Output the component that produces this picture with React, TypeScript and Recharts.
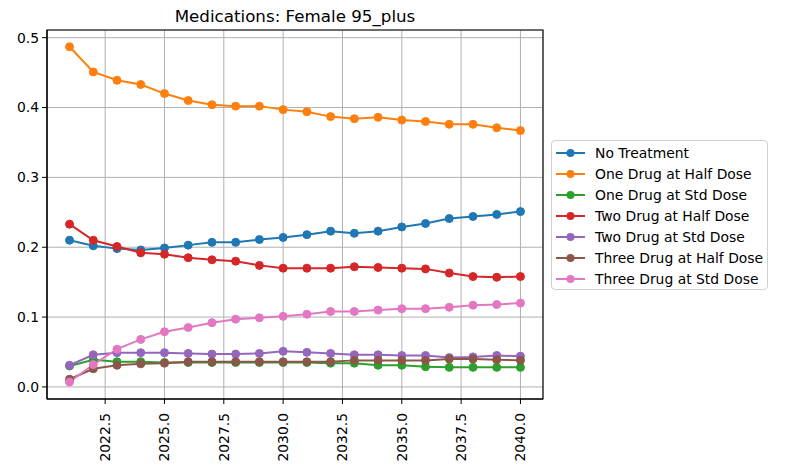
import React from "react";
import { CartesianGrid, Line, LineChart, ReferenceArea, XAxis, YAxis } from "recharts";

const years = [2021, 2022, 2023, 2024, 2025, 2026, 2027, 2028, 2029, 2030, 2031, 2032, 2033, 2034, 2035, 2036, 2037, 2038, 2039, 2040];

const noTreatment = [0.21, 0.202, 0.198, 0.196, 0.199, 0.203, 0.207, 0.207, 0.211, 0.214, 0.218, 0.223, 0.22, 0.223, 0.229, 0.234, 0.241, 0.244, 0.247, 0.251];
const oneHalf = [0.487, 0.451, 0.439, 0.433, 0.42, 0.41, 0.404, 0.402, 0.402, 0.397, 0.394, 0.387, 0.384, 0.386, 0.382, 0.38, 0.376, 0.376, 0.371, 0.367];
const oneStd = [0.03, 0.039, 0.036, 0.036, 0.035, 0.035, 0.035, 0.035, 0.035, 0.035, 0.035, 0.034, 0.034, 0.031, 0.031, 0.029, 0.028, 0.028, 0.028, 0.028];
const twoHalf = [0.233, 0.21, 0.201, 0.192, 0.19, 0.185, 0.182, 0.18, 0.174, 0.17, 0.17, 0.17, 0.172, 0.171, 0.17, 0.169, 0.163, 0.158, 0.157, 0.158];
const twoStd = [0.031, 0.046, 0.049, 0.049, 0.049, 0.048, 0.047, 0.047, 0.048, 0.051, 0.0495, 0.048, 0.046, 0.046, 0.045, 0.045, 0.042, 0.043, 0.045, 0.044];
const threeHalf = [0.011, 0.026, 0.031, 0.033, 0.034, 0.036, 0.036, 0.036, 0.036, 0.036, 0.036, 0.036, 0.038, 0.038, 0.038, 0.038, 0.04, 0.04, 0.039, 0.038];
const threeStd = [0.007, 0.032, 0.054, 0.068, 0.079, 0.085, 0.092, 0.097, 0.099, 0.101, 0.104, 0.108, 0.108, 0.11, 0.112, 0.112, 0.114, 0.117, 0.118, 0.12];

const xTicks = [2022.5, 2025, 2027.5, 2030, 2032.5, 2035, 2037.5, 2040];
const yTicks = [0, 0.1, 0.2, 0.3, 0.4, 0.5];
const xDomain = [2020.05, 2040.95];
const yDomain = [-0.0173, 0.511];

const series = [
  { key: "noTreatment", name: "No Treatment", color: "#1f77b4", values: noTreatment },
  { key: "oneHalf", name: "One Drug at Half Dose", color: "#ff7f0e", values: oneHalf },
  { key: "oneStd", name: "One Drug at Std Dose", color: "#2ca02c", values: oneStd },
  { key: "twoHalf", name: "Two Drug at Half Dose", color: "#d62728", values: twoHalf },
  { key: "twoStd", name: "Two Drug at Std Dose", color: "#9467bd", values: twoStd },
  { key: "threeHalf", name: "Three Drug at Half Dose", color: "#8c564b", values: threeHalf },
  { key: "threeStd", name: "Three Drug at Std Dose", color: "#e377c2", values: threeStd },
];

const data = years.map((year, i) => {
  const row: Record<string, number> = { year };
  series.forEach((s) => (row[s.key] = s.values[i]));
  return row;
});

const font = "'DejaVu Sans', sans-serif";

function XTick({ x, y, payload }: any) {
  return (
    <g transform={`translate(${x},${y})`}>
      <text transform="rotate(-90)" x={-9} y={0} dy="0.35em" textAnchor="end" fontSize={13.9} fontFamily={font} fill="#000">
        {Number(payload.value).toFixed(1)}
      </text>
    </g>
  );
}

function LegendBox() {
  return (
    <div style={{ position: "absolute", left: 551, top: 140, width: 217, height: 150, border: "1px solid #d0d0d0", borderRadius: 4, background: "rgba(255,255,255,0.8)", boxSizing: "border-box", padding: "1px 0 0 3px", fontFamily: font, fontSize: 13.9 }}>
      {series.map((s) => (
        <div key={s.key} style={{ display: "flex", alignItems: "center", height: 21 }}>
          <svg width={40} height={12} style={{ flex: "none" }}>
            <line x1={1} y1={6} x2={30} y2={6} stroke={s.color} strokeWidth={2} />
            <circle cx={15.5} cy={6} r={4} fill={s.color} />
          </svg>
          <span style={{ color: "#000", whiteSpace: "nowrap" }}>{s.name}</span>
        </div>
      ))}
    </div>
  );
}

export default function App() {
  return (
    <div style={{ position: "absolute", left: 0, top: 0, width: 791, height: 470, background: "#fff" }}>
      <div style={{ position: "absolute", left: 47, width: 496, top: 6, textAlign: "center", fontFamily: font, fontSize: 16.7, color: "#000" }}>
        Medications: Female 95_plus
      </div>
      <LineChart width={791} height={470} data={data} margin={{ top: 30, right: 248, bottom: 0, left: 0 }}>
        <CartesianGrid stroke="#b0b0b0" strokeWidth={1} />
        <XAxis dataKey="year" type="number" domain={xDomain} ticks={xTicks} allowDataOverflow interval={0} height={71} tickSize={5} tickMargin={0} tick={<XTick />} axisLine={{ stroke: "#000", strokeWidth: 1.1 }} tickLine={{ stroke: "#000" }} />
        <YAxis type="number" domain={yDomain} ticks={yTicks} allowDataOverflow interval={0} width={47} tickSize={5} tickMargin={3} tickFormatter={(v: number) => v.toFixed(1)} tick={{ fill: "#000", fontSize: 13.9, fontFamily: font }} axisLine={{ stroke: "#000", strokeWidth: 1.1 }} tickLine={{ stroke: "#000" }} />
        <ReferenceArea x1={xDomain[0]} x2={xDomain[1]} y1={yDomain[0]} y2={yDomain[1]} fill="none" fillOpacity={0} stroke="#000" strokeWidth={1.1} ifOverflow="visible" />
        {series.map((s) => (
          <Line key={s.key} dataKey={s.key} name={s.name} stroke={s.color} strokeWidth={2} dot={{ r: 4, fill: s.color, stroke: s.color, strokeWidth: 1 }} activeDot={false} isAnimationActive={false} />
        ))}
      </LineChart>
      <LegendBox />
    </div>
  );
}
